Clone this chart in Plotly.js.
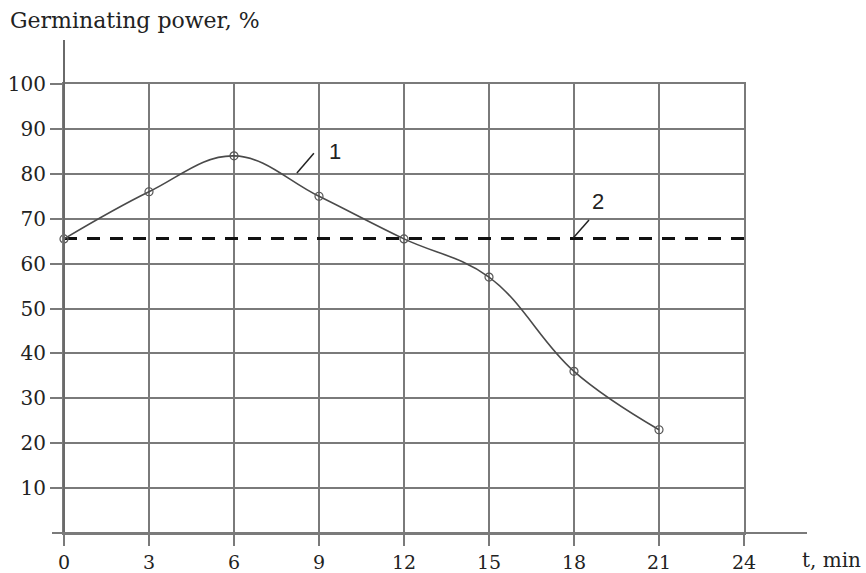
<!DOCTYPE html>
<html>
<head>
<meta charset="utf-8">
<script src="https://cdn.plot.ly/plotly-3.0.1.min.js"></script>
<style>html,body{margin:0;padding:0;background:#fff;}#chart{width:866px;height:573px;}</style>
</head>
<body>
<div id="chart"></div>
<script>
// Data
const tMin = [0, 3, 6, 9, 12, 15, 18, 21];
const germPower = [65.5, 76, 84, 75, 65.5, 57, 36, 23];
const controlT = [0, 24];
const controlPower = [65.6, 65.6];
const xTickVals = [0, 3, 6, 9, 12, 15, 18, 21, 24];
const xTickText = ['0', '3', '6', '9', '12', '15', '18', '21', '24'];
const yTickVals = [10, 20, 30, 40, 50, 60, 70, 80, 90, 100];
const yTickText = ['10', '20', '30', '40', '50', '60', '70', '80', '90', '100'];
const curveLabels = ['1', '2'];
// leader line anchor points (data units) for curve labels
const leader1 = {x: [8.22, 8.82], y: [80.2, 84.6]};
const leader2 = {x: [17.97, 18.53], y: [65.7, 69.7]};
const label1Pos = {x: 9.57, y: 85.0};
const label2Pos = {x: 18.85, y: 73.8};

const gridCol = '#7a7a7a';
const serif = 'DejaVu Serif';

const traces = [
  {
    x: controlT, y: controlPower, type: 'scatter', mode: 'lines',
    line: {color: '#111', width: 3, dash: '13px,10px'},
    hoverinfo: 'skip'
  },
  {
    x: tMin, y: germPower, type: 'scatter', mode: 'lines+markers',
    line: {color: '#4a4a4a', width: 1.6, shape: 'spline', smoothing: 1.1},
    marker: {symbol: 'circle-open', size: 8, color: '#555', line: {width: 1.2, color: '#555'}},
    cliponaxis: false
  }
];

const layout = {
  width: 866, height: 573,
  margin: {l: 64, r: 122, t: 84, b: 40},
  paper_bgcolor: '#fff', plot_bgcolor: '#fff',
  showlegend: false,
  title: {
    text: 'Germinating power, %',
    xref: 'container', yref: 'container',
    x: 10 / 866, xanchor: 'left',
    y: 1 - 20 / 573, yanchor: 'middle',
    font: {family: serif, size: 22, color: '#222'}
  },
  xaxis: {
    range: [0, 24], fixedrange: true,
    tickmode: 'array', tickvals: xTickVals, ticktext: xTickText,
    ticks: 'outside', ticklen: 11, tickwidth: 2, tickcolor: gridCol,
    showgrid: true, gridcolor: gridCol, gridwidth: 2,
    zeroline: false,
    showline: true, mirror: true, linecolor: gridCol, linewidth: 2,
    tickfont: {family: serif, size: 19, color: '#222'}
  },
  yaxis: {
    range: [0, 100], fixedrange: true,
    tickmode: 'array', tickvals: yTickVals, ticktext: yTickText,
    ticks: 'outside', ticklen: 12, tickwidth: 2, tickcolor: gridCol,
    showgrid: true, gridcolor: gridCol, gridwidth: 2,
    zeroline: false,
    showline: true, mirror: true, linecolor: gridCol, linewidth: 2,
    tickfont: {family: serif, size: 20, color: '#222'}
  },
  shapes: [
    // extended vertical axis above the grid
    {type: 'line', xref: 'paper', yref: 'paper', x0: 0, x1: 0, y0: 0, y1: 1 + 44 / 449,
     line: {color: '#6a6a6a', width: 2}},
    // extended horizontal axis
    {type: 'line', xref: 'paper', yref: 'paper', x0: -12 / 680, x1: (807 - 64) / 680, y0: 0, y1: 0,
     line: {color: gridCol, width: 2}},
    // leader lines for curve labels
    {type: 'line', xref: 'x', yref: 'y', x0: leader1.x[0], x1: leader1.x[1], y0: leader1.y[0], y1: leader1.y[1],
     line: {color: '#222', width: 1.5}},
    {type: 'line', xref: 'x', yref: 'y', x0: leader2.x[0], x1: leader2.x[1], y0: leader2.y[0], y1: leader2.y[1],
     line: {color: '#222', width: 1.5}}
  ],
  annotations: [
    {x: label1Pos.x, y: label1Pos.y, xref: 'x', yref: 'y', text: curveLabels[0], showarrow: false,
     font: {family: 'Liberation Sans', size: 22, color: '#222'}},
    {x: label2Pos.x, y: label2Pos.y, xref: 'x', yref: 'y', text: curveLabels[1], showarrow: false,
     font: {family: 'Liberation Sans', size: 22, color: '#222'}},
    {x: (800 - 64) / 680, y: -27 / 449, xref: 'paper', yref: 'paper', xanchor: 'left', yanchor: 'middle',
     text: 't, min', showarrow: false, font: {family: serif, size: 20, color: '#222'}}
  ]
};

Plotly.newPlot('chart', traces, layout, {displayModeBar: false, staticPlot: true});
</script>
</body>
</html>
